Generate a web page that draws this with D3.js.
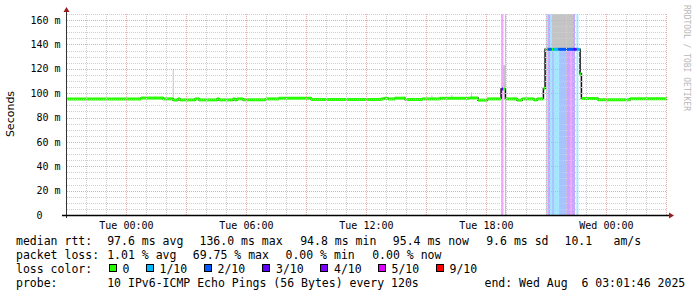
<!DOCTYPE html>
<html>
<head>
<meta charset="utf-8">
<script src="https://cdn.jsdelivr.net/npm/d3@7"></script>
<style>
body { margin: 0; background: #fff; }
svg { display: block; }
text { font-family: "DejaVu Sans Mono", monospace; white-space: pre; }
</style>
</head>
<body>
<svg id="chart" width="697" height="297"></svg>
<script>
// time window of the graph (UTC)
const startTime = "2025-08-04T21:01:46Z";
const endTime = "2025-08-06T03:01:46Z";

// median rtt, one step per entry (start time, ms, loss in tenths)
const medianTimes = [
    "2025-08-04T21:02Z", "2025-08-05T00:44Z", "2025-08-05T01:50Z", "2025-08-05T02:20Z",
    "2025-08-05T02:35Z", "2025-08-05T02:41Z", "2025-08-05T03:26Z", "2025-08-05T03:38Z",
    "2025-08-05T04:32Z", "2025-08-05T04:38Z", "2025-08-05T05:20Z", "2025-08-05T05:26Z",
    "2025-08-05T05:32Z", "2025-08-05T05:50Z", "2025-08-05T06:59Z", "2025-08-05T07:38Z",
    "2025-08-05T09:14Z", "2025-08-05T12:44Z", "2025-08-05T12:53Z", "2025-08-05T13:05Z",
    "2025-08-05T13:26Z", "2025-08-05T13:56Z", "2025-08-05T14:47Z", "2025-08-05T15:41Z",
    "2025-08-05T17:11Z", "2025-08-05T17:35Z", "2025-08-05T18:02Z", "2025-08-05T18:44Z",
    "2025-08-05T18:50Z", "2025-08-05T18:57Z", "2025-08-05T19:32Z", "2025-08-05T19:47Z",
    "2025-08-05T20:23Z", "2025-08-05T20:32Z", "2025-08-05T20:51Z", "2025-08-05T20:56Z",
    "2025-08-05T21:01Z", "2025-08-05T21:06Z", "2025-08-05T21:16Z", "2025-08-05T21:21Z",
    "2025-08-05T21:36Z", "2025-08-05T22:21Z", "2025-08-05T22:31Z", "2025-08-05T22:39Z",
    "2025-08-05T22:41Z", "2025-08-05T22:45Z", "2025-08-05T23:35Z", "2025-08-06T01:11Z"
];
const medianValues = [
    95.3, 96.0, 95.3, 94.4, 95.3, 94.5, 95.3, 94.5,
    95.3, 94.5, 95.3, 94.5, 95.3, 94.6, 95.3, 95.9,
    94.8, 95.3, 95.8, 95.3, 95.9, 94.8, 95.3, 95.8,
    96.1, 94.3, 95.3, 103.5, 103.5, 95.3, 94.3, 95.3,
    94.5, 95.3, 104.0, 136.0, 136.0, 136.0, 136.0, 136.0,
    136.0, 136.0, 136.0, 136.0, 116.0, 95.6, 94.6, 95.5
];
const medianLoss = [
    0, 0, 0, 0, 0, 0, 0, 0,
    0, 0, 0, 0, 0, 0, 0, 0,
    0, 0, 0, 0, 0, 0, 0, 0,
    0, 0, 0, 3, 0, 0, 0, 0,
    0, 0, 0, 0, 1, 2, 0, 1,
    2, 3, 1, 0, 0, 0, 0, 0
];

// loss background bars
const bandStart = ["2025-08-05T18:44Z", "2025-08-05T18:56Z", "2025-08-05T20:59Z", "2025-08-05T21:05Z",
    "2025-08-05T21:11Z", "2025-08-05T21:17Z", "2025-08-05T21:23Z", "2025-08-05T21:38Z",
    "2025-08-05T21:59Z", "2025-08-05T22:11Z", "2025-08-05T22:15Z", "2025-08-05T22:30Z"];
const bandEnd = ["2025-08-05T18:51Z", "2025-08-05T18:59Z", "2025-08-05T21:05Z", "2025-08-05T21:11Z",
    "2025-08-05T21:17Z", "2025-08-05T21:23Z", "2025-08-05T21:38Z", "2025-08-05T21:59Z",
    "2025-08-05T22:11Z", "2025-08-05T22:15Z", "2025-08-05T22:26Z", "2025-08-05T22:36Z"];
const bandLoss = [5, 3, 1, 3, 1, 2, 1, 2, 3, 5, 3, 1];

// smoke (spread of the single pings)
const smokeStart = ["2025-08-05T02:19Z", "2025-08-05T15:15Z", "2025-08-05T16:15Z", "2025-08-05T17:14Z",
    "2025-08-05T18:50Z", "2025-08-05T21:17Z"];
const smokeEnd = ["2025-08-05T02:22Z", "2025-08-05T15:18Z", "2025-08-05T16:18Z", "2025-08-05T17:17Z",
    "2025-08-05T18:57Z", "2025-08-05T22:20Z"];
const smokeLow = [95, 95.5, 95.5, 96, 103.5, 136];
const smokeHigh = [120, 98, 98.5, 100.8, 123, 170];

const lossLevels = [0, 1, 2, 3, 4, 5, 9];
const lossLabels = ["0", "1/10", "2/10", "3/10", "4/10", "5/10", "9/10"];
const lossColors = ["#26ff00", "#00b8ff", "#0059ff", "#5e00ff", "#7e00ff", "#dd00ff", "#ff0000"];
const yTicks = [0, 20, 40, 60, 80, 100, 120, 140, 160];

const rttStats = ["97.6 ms avg", "136.0 ms max", "94.8 ms min", "95.4 ms now", "9.6 ms sd", "10.1", "am/s"];
const lossStats = ["1.01 % avg", "69.75 % max", "0.00 % min", "0.00 % now"];
const probeText = "10 IPv6-ICMP Echo Pings (56 Bytes) every 120s";
const endText = "end: Wed Aug  6 03:01:46 2025";

const svg = d3.select("#chart");
svg.append("rect").attr("width", 697).attr("height", 297).attr("fill", "#fff");

const x = d3.scaleUtc().domain([new Date(startTime), new Date(endTime)]).range([67, 667]);
const y = d3.scaleLinear().domain([0, 165]).range([215, 14]);
const lossColor = d3.scaleOrdinal().domain(lossLevels).range(lossColors);

svg.append("clipPath").attr("id", "plot")
    .append("rect").attr("x", 67).attr("y", 14).attr("width", 600).attr("height", 201);
const plot = svg.append("g").attr("clip-path", "url(#plot)");

// loss bars
plot.selectAll(".band")
    .data(bandLoss)
    .enter().append("rect")
    .attr("x", (d, i) => x(new Date(bandStart[i])))
    .attr("width", (d, i) => x(new Date(bandEnd[i])) - x(new Date(bandStart[i])))
    .attr("y", 14)
    .attr("height", 201)
    .attr("fill", d => lossColor(d))
    .attr("fill-opacity", 0.35);

// smoke
plot.selectAll(".smoke")
    .data(smokeLow)
    .enter().append("rect")
    .attr("x", (d, i) => x(new Date(smokeStart[i])))
    .attr("width", (d, i) => Math.max(1, x(new Date(smokeEnd[i])) - x(new Date(smokeStart[i]))))
    .attr("y", (d, i) => y(smokeHigh[i]))
    .attr("height", (d, i) => y(d) - y(smokeHigh[i]))
    .attr("fill", "#c4c4c4");

// grid
const grid = svg.append("g").attr("shape-rendering", "crispEdges").attr("stroke-dasharray", "1,1");
const minorY = d3.range(5, 166, 5).filter(v => v % 20 != 0);
grid.selectAll(".hmin").data(minorY).enter().append("line")
    .attr("x1", 67).attr("x2", 667)
    .attr("y1", d => Math.round(y(d)) + 0.5).attr("y2", d => Math.round(y(d)) + 0.5)
    .attr("stroke", "#cfcfcf");
const hours = x.ticks(d3.utcHour.every(1));
grid.selectAll(".vmin").data(hours.filter(d => d.getUTCHours() % 3 != 0)).enter().append("line")
    .attr("x1", d => Math.round(x(d)) + 0.5).attr("x2", d => Math.round(x(d)) + 0.5)
    .attr("y1", 14).attr("y2", 215)
    .attr("stroke", "#cfcfcf");
grid.selectAll(".hmaj").data(yTicks.filter(d => d > 0)).enter().append("line")
    .attr("x1", 67).attr("x2", 667)
    .attr("y1", d => Math.round(y(d)) + 0.5).attr("y2", d => Math.round(y(d)) + 0.5)
    .attr("stroke", "#e2acac");
grid.selectAll(".vmaj").data(hours.filter(d => d.getUTCHours() % 3 == 0)).enter().append("line")
    .attr("x1", d => Math.round(x(d)) + 0.5).attr("x2", d => Math.round(x(d)) + 0.5)
    .attr("y1", 14).attr("y2", 215)
    .attr("stroke", "#e2acac");

// median: dark step line, then loss coloured steps on top
const pts = medianValues.map((v, i) => ({t: new Date(medianTimes[i]), v: v, loss: medianLoss[i]}));
const stepPts = pts.concat([{t: new Date(endTime), v: medianValues[medianValues.length - 1]}]);
plot.append("path")
    .attr("d", d3.line().x(d => x(d.t)).y(d => y(d.v)).curve(d3.curveStepAfter)(stepPts))
    .attr("fill", "none")
    .attr("stroke", "#111")
    .attr("stroke-width", 1.5);
plot.selectAll(".seg")
    .data(pts)
    .enter().append("line")
    .attr("x1", d => x(d.t))
    .attr("x2", (d, i) => x(stepPts[i + 1].t))
    .attr("y1", d => y(d.v))
    .attr("y2", d => y(d.v))
    .attr("stroke", d => lossColor(d.loss))
    .attr("stroke-width", 3);

// axes
svg.append("line").attr("x1", 66.5).attr("x2", 66.5).attr("y1", 218).attr("y2", 11)
    .attr("stroke", "#333").attr("shape-rendering", "crispEdges");
svg.append("line").attr("x1", 62).attr("x2", 669).attr("y1", 215.5).attr("y2", 215.5)
    .attr("stroke", "#000").attr("stroke-width", 1.4);
svg.append("path").attr("d", "M669,212.5L674,215.5L669,218.5Z").attr("fill", "#9b1c1c");
svg.append("path").attr("d", "M63.5,12L66.5,7L69.5,12Z").attr("fill", "#9b1c1c");

// y labels
svg.selectAll(".ylab").data(yTicks).enter().append("text")
    .attr("x", 30.5)
    .attr("y", d => y(d) + 3.6)
    .attr("font-size", "10px")
    .text(d => d == 0 ? " 0" : String(d).padStart(3, " ") + " m");

// x labels
svg.selectAll(".xlab").data(x.ticks(d3.utcHour.every(6)).filter(d => x(d) > 80)).enter().append("text")
    .attr("x", d => x(d))
    .attr("y", 228.5)
    .attr("font-size", "10px")
    .attr("text-anchor", "middle")
    .text(d => d3.utcFormat("%a %H:%M")(d));

svg.append("text")
    .attr("transform", "translate(14,114) rotate(-90)")
    .attr("text-anchor", "middle")
    .style("font-family", "'DejaVu Sans', sans-serif")
    .attr("font-size", "11px")
    .text("Seconds");

svg.append("text")
    .attr("transform", "translate(684,5) rotate(90)")
    .attr("font-size", "8px")
    .attr("fill", "#b8b8b8")
    .text("RRDTOOL / TOBI OETIKER");

// legend
const legend = svg.append("g").attr("font-size", "11.5px").attr("fill", "#000");
legend.append("text").attr("x", 16).attr("y", 245).text("median rtt:");
const rttX = [107.2, 199.5, 300.2, 392.8, 486.2, 564.5, 613.5];
legend.selectAll(".rtt").data(rttStats).enter().append("text")
    .attr("x", (d, i) => rttX[i]).attr("y", 245).text(d => d);

legend.append("text").attr("x", 16).attr("y", 259).text("packet loss:");
const lossX = [107.2, 192.8, 285.5, 372.2];
legend.selectAll(".loss").data(lossStats).enter().append("text")
    .attr("x", (d, i) => lossX[i]).attr("y", 259).text(d => d);

legend.append("text").attr("x", 16).attr("y", 273).text("loss color:");
const boxX = [108.5, 145.5, 203.5, 262, 320, 377.5, 435.5];
legend.selectAll(".box").data(lossLevels).enter().append("rect")
    .attr("x", (d, i) => boxX[i] + 0.5).attr("y", 264.5)
    .attr("width", 7).attr("height", 7)
    .attr("fill", d => lossColor(d))
    .attr("stroke", "#000")
    .attr("shape-rendering", "crispEdges");
legend.selectAll(".boxlab").data(lossLabels).enter().append("text")
    .attr("x", (d, i) => boxX[i] + 14).attr("y", 273).text(d => d);

legend.append("text").attr("x", 16).attr("y", 287).text("probe:");
legend.append("text").attr("x", 107.2).attr("y", 287).text(probeText);
legend.append("text").attr("x", 484.5).attr("y", 287).text(endText);
</script>
</body>
</html>
